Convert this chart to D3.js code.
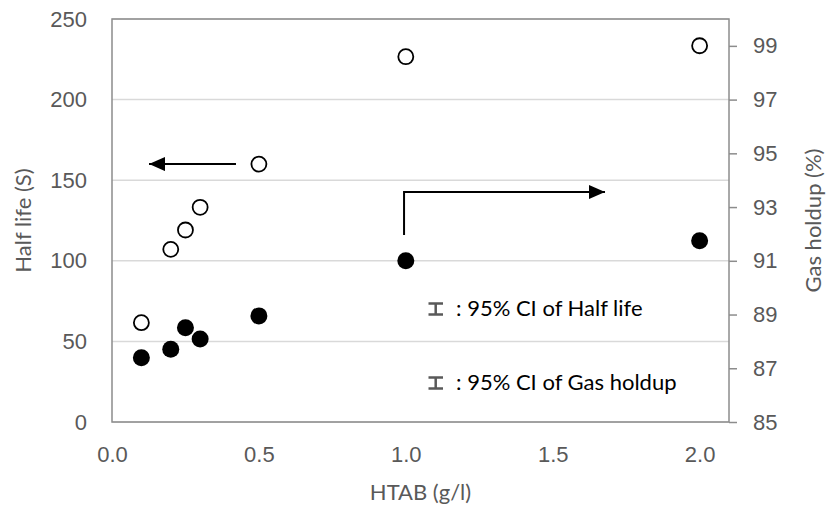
<!DOCTYPE html>
<html>
<head>
<meta charset="utf-8">
<script src="https://cdn.jsdelivr.net/npm/d3@7"></script>
<style>
  html, body { margin: 0; padding: 0; background: #fff; }
  svg { display: block; font-family: "Lato", "Open Sans", sans-serif; }
</style>
</head>
<body>
<svg id="chart" width="827" height="510"></svg>
<script>
// HTAB concentration (g/l)
const htab = [0.1, 0.2, 0.25, 0.3, 0.5, 1.0, 2.0];
// Foam half life (s), left axis, open circles
const halfLife = [61.6, 107.1, 119.1, 133.2, 160.0, 226.6, 233.4];
// Gas holdup (%), right axis, filled circles
const gasHoldup = [87.39, 87.71, 88.51, 88.09, 88.95, 91.0, 91.75];

const xTicks = [0, 0.5, 1.0, 1.5, 2.0];
const leftTicks = [0, 50, 100, 150, 200, 250];
const rightTicks = [85, 87, 89, 91, 93, 95, 97, 99];

const ciLabels = [": 95% CI of Half life", ": 95% CI of Gas holdup"];

const margin = { left: 112, right: 729, top: 19, bottom: 422 };
const textColor = "#595959";
const axisColor = "#8c8c8c";
const gridColor = "#d9d9d9";
const fontSize = 22;

const svg = d3.select("#chart");

const x = d3.scaleLinear().domain([0, 2.1]).range([margin.left, margin.right]);
const yL = d3.scaleLinear().domain([0, 250]).range([margin.bottom, margin.top]);
const yR = d3.scaleLinear().domain([85, 100]).range([margin.bottom, margin.top]);

// horizontal gridlines from the left axis
svg.append("g")
  .selectAll("line")
  .data(leftTicks)
  .join("line")
  .attr("x1", margin.left).attr("x2", margin.right)
  .attr("y1", d => yL(d)).attr("y2", d => yL(d))
  .attr("stroke", gridColor).attr("stroke-width", 1.5);

// plot frame
svg.append("rect")
  .attr("x", margin.left).attr("y", margin.top)
  .attr("width", margin.right - margin.left)
  .attr("height", margin.bottom - margin.top)
  .attr("fill", "none").attr("stroke", axisColor).attr("stroke-width", 1.5);

// left axis (labels only)
const leftAxis = svg.append("g")
  .attr("transform", `translate(${margin.left},0)`)
  .call(d3.axisLeft(yL).tickValues(leftTicks).tickSize(0).tickPadding(25).tickFormat(d3.format("d")));
leftAxis.select(".domain").remove();
leftAxis.selectAll("text").attr("fill", textColor).attr("font-size", fontSize).attr("font-family", null);

// right axis with outward ticks
const rightAxis = svg.append("g")
  .attr("transform", `translate(${margin.right},0)`)
  .call(d3.axisRight(yR).tickValues(rightTicks).tickSize(8).tickPadding(16).tickFormat(d3.format("d")));
rightAxis.select(".domain").remove();
rightAxis.selectAll("line").attr("stroke", axisColor).attr("stroke-width", 1.5);
rightAxis.selectAll("text").attr("fill", textColor).attr("font-size", fontSize).attr("font-family", null);

// bottom axis (labels only)
const bottomAxis = svg.append("g")
  .attr("transform", `translate(0,${margin.bottom})`)
  .call(d3.axisBottom(x).tickValues(xTicks).tickSize(0).tickPadding(24).tickFormat(d3.format(".1f")));
bottomAxis.select(".domain").remove();
bottomAxis.selectAll("text").attr("fill", textColor).attr("font-size", fontSize).attr("font-family", null);

// axis titles
svg.append("text")
  .attr("x", (margin.left + margin.right) / 2).attr("y", 500)
  .attr("text-anchor", "middle").attr("fill", textColor).attr("font-size", fontSize)
  .text("HTAB (g/l)");

svg.append("text")
  .attr("transform", `translate(31,${(margin.top + margin.bottom) / 2}) rotate(-90)`)
  .attr("text-anchor", "middle").attr("fill", textColor).attr("font-size", fontSize)
  .text("Half life (S)");

svg.append("text")
  .attr("transform", `translate(821,${(margin.top + margin.bottom) / 2}) rotate(-90)`)
  .attr("text-anchor", "middle").attr("fill", textColor).attr("font-size", fontSize)
  .text("Gas holdup (%)");

// arrowhead marker
svg.append("defs").append("marker")
  .attr("id", "head")
  .attr("viewBox", "0 0 16 14")
  .attr("refX", 16).attr("refY", 7)
  .attr("markerWidth", 16).attr("markerHeight", 14)
  .attr("markerUnits", "userSpaceOnUse")
  .attr("orient", "auto")
  .append("path").attr("d", "M0,0 L16,7 L0,14 Z").attr("fill", "#000");

// arrow pointing to the half-life axis
svg.append("line")
  .attr("x1", x(0.422)).attr("y1", yL(160))
  .attr("x2", x(0.126)).attr("y2", yL(160))
  .attr("stroke", "#000").attr("stroke-width", 2)
  .attr("marker-end", "url(#head)");

// elbow arrow pointing to the gas-holdup axis
svg.append("path")
  .attr("d", d3.line()([[x(0.994), yR(91.96)], [x(0.994), yR(93.56)], [x(1.678), yR(93.56)]]))
  .attr("fill", "none").attr("stroke", "#000").attr("stroke-width", 2)
  .attr("marker-end", "url(#head)");

// gas holdup points
svg.append("g")
  .selectAll("circle")
  .data(htab.map((h, i) => [h, gasHoldup[i]]))
  .join("circle")
  .attr("cx", d => x(d[0])).attr("cy", d => yR(d[1]))
  .attr("r", 8.5).attr("fill", "#000");

// half-life points
svg.append("g")
  .selectAll("circle")
  .data(htab.map((h, i) => [h, halfLife[i]]))
  .join("circle")
  .attr("cx", d => x(d[0])).attr("cy", d => yL(d[1]))
  .attr("r", 7.5).attr("fill", "#fff").attr("stroke", "#000").attr("stroke-width", 1.8);

// confidence interval key
const key = svg.append("g");
const keyY = [309, 383];
ciLabels.forEach((label, i) => {
  const cy = keyY[i];
  key.append("path")
    .attr("d", `M428.5,${cy - 5.5} H443 M428.5,${cy + 5.5} H443 M435.7,${cy - 5.5} V${cy + 5.5}`)
    .attr("stroke", textColor).attr("stroke-width", 2.5).attr("fill", "none");
  key.append("text")
    .attr("x", 456).attr("y", cy + 7)
    .attr("fill", "#000").attr("font-size", fontSize)
    .text(label);
});
</script>
</body>
</html>
